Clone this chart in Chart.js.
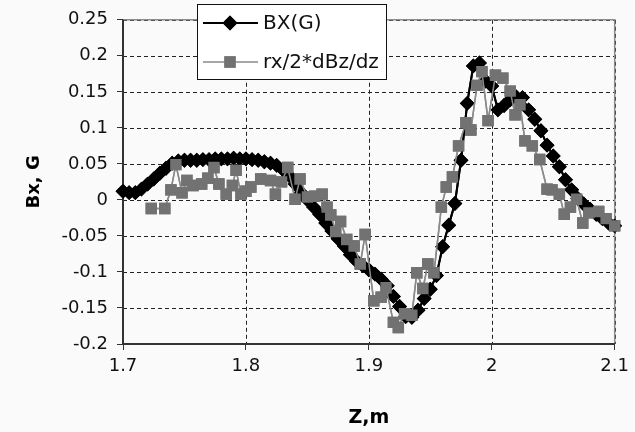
<!DOCTYPE html>
<html lang="en">
<head>
  <meta charset="UTF-8">
  <title>Bx vs Z</title>
  <script src="https://cdn.jsdelivr.net/npm/chart.js@4.4.0/dist/chart.umd.min.js"></script>
  <style>
    html, body { margin: 0; padding: 0; background: #fafafa; }
    #chart { display: block; }
  </style>
</head>
<body>
  <canvas id="chart" width="635" height="432"></canvas>

  <script type="text/javascript">
    // z positions (m) of the BX(G) points
    const bxZ = [
      1.700, 1.705, 1.710, 1.715, 1.720, 1.725, 1.730, 1.735, 1.740, 1.745,
      1.750, 1.755, 1.760, 1.765, 1.770, 1.775, 1.780, 1.785, 1.790, 1.795,
      1.800, 1.805, 1.810, 1.815, 1.820, 1.825, 1.830, 1.835, 1.840, 1.845,
      1.850, 1.855, 1.860, 1.865, 1.870, 1.875, 1.880, 1.885, 1.890, 1.895,
      1.900, 1.905, 1.910, 1.915, 1.920, 1.925, 1.930, 1.935, 1.940, 1.945,
      1.950, 1.955, 1.960, 1.965, 1.970, 1.975, 1.980, 1.985, 1.990, 1.995,
      2.000, 2.005, 2.010, 2.015, 2.020, 2.025, 2.030, 2.035, 2.040, 2.045,
      2.050, 2.055, 2.060, 2.065, 2.070, 2.075, 2.080, 2.085, 2.090, 2.095,
      2.100
    ];
    const bxValues = [
      0.012, 0.010, 0.010, 0.015, 0.022, 0.029, 0.037, 0.044, 0.051, 0.054,
      0.055, 0.055, 0.055, 0.056, 0.056, 0.057, 0.057, 0.057, 0.058, 0.057,
      0.057, 0.056, 0.055, 0.053, 0.051, 0.048, 0.042, 0.034, 0.022, 0.010,
      0.000, -0.010, -0.020, -0.032, -0.043, -0.054, -0.064, -0.076, -0.085, -0.091,
      -0.097, -0.103, -0.110, -0.119, -0.134, -0.148, -0.162, -0.163, -0.153, -0.137,
      -0.124, -0.105, -0.065, -0.035, -0.005, 0.055, 0.134, 0.186, 0.190, 0.165,
      0.158, 0.125, 0.131, 0.139, 0.143, 0.142, 0.125, 0.112, 0.096, 0.076,
      0.061, 0.046, 0.028, 0.014, 0.002, -0.006, -0.013, -0.020, -0.026, -0.032,
      -0.036
    ];

    // rx/2*dBz/dz points
    const gradZ = [
      1.723, 1.734, 1.739, 1.743, 1.748, 1.752, 1.757, 1.764, 1.769, 1.774,
      1.778, 1.784, 1.789, 1.792, 1.796, 1.800, 1.804, 1.812, 1.820, 1.824,
      1.829, 1.834, 1.840, 1.844, 1.850, 1.856, 1.862, 1.866, 1.869, 1.873,
      1.877, 1.882, 1.888, 1.893, 1.897, 1.904, 1.910, 1.914, 1.920, 1.924,
      1.929, 1.935, 1.939, 1.944, 1.948, 1.953, 1.959, 1.963, 1.968, 1.973,
      1.979, 1.983, 1.988, 1.992, 1.997, 2.003, 2.009, 2.015, 2.019, 2.023,
      2.027, 2.033, 2.039, 2.045, 2.049, 2.055, 2.059, 2.064, 2.069, 2.074,
      2.079, 2.087, 2.093, 2.100
    ];
    const gradValues = [
      -0.012, -0.012, 0.014, 0.049, 0.010, 0.027, 0.020, 0.022, 0.030, 0.045,
      0.022, 0.008, 0.020, 0.041, 0.008, 0.012, 0.018, 0.029, 0.027, 0.008,
      0.025, 0.045, 0.001, 0.029, 0.004, 0.005, 0.008, -0.010, -0.021, -0.044,
      -0.030, -0.055, -0.064, -0.089, -0.048, -0.140, -0.135, -0.122, -0.170, -0.177,
      -0.158, -0.160, -0.101, -0.123, -0.089, -0.101, -0.010, 0.018, 0.032, 0.075,
      0.107, 0.097, 0.159, 0.178, 0.110, 0.173, 0.169, 0.151, 0.118, 0.132,
      0.082, 0.075, 0.056, 0.015, 0.014, 0.008, -0.020, -0.010, 0.001, -0.032,
      -0.018, -0.016, -0.026, -0.036
    ];

    const seriesNames = ['BX(G)', 'rx/2*dBz/dz'];
    const xTicks = [1.7, 1.8, 1.9, 2.0, 2.1];
    const yTicks = [-0.2, -0.15, -0.1, -0.05, 0, 0.05, 0.1, 0.15, 0.2, 0.25];
    const yMin = -0.2, yMax = 0.25, yStep = 0.05;

    Chart.defaults.font.family = "'DejaVu Sans', sans-serif";
    Chart.defaults.color = '#111';

    // grid, frame, data again on top, then the boxed legend
    // (plot edges taken from the scales themselves)
    const overlay = {
      id: 'overlay',
      afterDraw(chart) {
        const ctx = chart.ctx;
        const sx = chart.scales.x, sy = chart.scales.y;
        const L = sx.getPixelForValue(xTicks[0]);
        const R = sx.getPixelForValue(xTicks[xTicks.length - 1]);
        const T = sy.getPixelForValue(yMax);
        const B = sy.getPixelForValue(yMin);

        ctx.save();
        ctx.strokeStyle = '#222';
        ctx.lineWidth = 1;
        ctx.setLineDash([4, 3]);
        yTicks.forEach((v) => {
          const py = Math.round(sy.getPixelForValue(v)) + 0.5;
          ctx.beginPath();
          ctx.moveTo(L, py);
          ctx.lineTo(R, py);
          ctx.stroke();
        });
        xTicks.forEach((v) => {
          const px = Math.round(sx.getPixelForValue(v)) + 0.5;
          ctx.beginPath();
          ctx.moveTo(px, T);
          ctx.lineTo(px, B);
          ctx.stroke();
        });
        ctx.setLineDash([]);
        ctx.strokeStyle = '#8c8c8c';
        ctx.lineWidth = 1.5;
        ctx.beginPath();
        ctx.moveTo(L, T);
        ctx.lineTo(R, T);
        ctx.lineTo(R, B);
        ctx.stroke();
        ctx.strokeStyle = '#333';
        ctx.lineWidth = 2;
        ctx.beginPath();
        ctx.moveTo(L, T);
        ctx.lineTo(L, B);
        ctx.lineTo(R, B);
        ctx.stroke();
        ctx.restore();

        // put the series back over the grid (black first, grey on top)
        const metas = chart.getSortedVisibleDatasetMetas();
        for (let i = metas.length - 1; i >= 0; i--) {
          ctx.save();
          metas[i].controller.draw();
          ctx.restore();
        }

        // legend box
        const left = 197, top = 4, width = 189, height = 75;
        ctx.save();
        ctx.fillStyle = '#ffffff';
        ctx.fillRect(left, top, width, height);
        ctx.strokeStyle = '#111';
        ctx.lineWidth = 1;
        ctx.strokeRect(left + 0.5, top + 0.5, width, height);
        const rows = [23, 62];
        chart.data.datasets.forEach((ds, i) => {
          const y = rows[i];
          ctx.strokeStyle = ds.borderColor;
          ctx.lineWidth = ds.borderWidth;
          ctx.beginPath();
          ctx.moveTo(203, y);
          ctx.lineTo(258, y);
          ctx.stroke();
          Chart.helpers.drawPoint(ctx, {
            pointStyle: ds.pointStyle,
            radius: ds.pointRadius,
            borderWidth: 1,
            rotation: 0
          }, 230, y);
          ctx.fillStyle = ds.pointBackgroundColor;
          ctx.strokeStyle = ds.pointBorderColor;
          ctx.fill();
          ctx.stroke();
          ctx.fillStyle = '#111';
          ctx.font = "20px 'DejaVu Sans'";
          ctx.textBaseline = 'middle';
          ctx.fillText(ds.label, 263, y + 1);
        });
        ctx.restore();
      }
    };

    const config = {
      type: 'scatter',
      data: {
        datasets: [{
          label: seriesNames[0],
          data: bxZ.map((z, i) => ({x: z, y: bxValues[i]})),
          showLine: true,
          borderColor: '#000',
          borderWidth: 2,
          pointStyle: 'rectRot',
          pointRadius: 6,
          pointBackgroundColor: '#000',
          pointBorderColor: '#000',
          order: 1,
          clip: false
        }, {
          label: seriesNames[1],
          data: gradZ.map((z, i) => ({x: z, y: gradValues[i]})),
          showLine: true,
          borderColor: '#8a8a8a',
          borderWidth: 1.5,
          pointStyle: 'rect',
          pointRadius: 7,
          pointBackgroundColor: '#727272',
          pointBorderColor: '#727272',
          order: 0,
          clip: false
        }]
      },
      options: {
        responsive: false,
        animation: false,
        devicePixelRatio: 1,
        layout: { padding: { top: 15, right: 15, left: 0, bottom: 0 } },
        plugins: {
          legend: { display: false },
          tooltip: { enabled: false }
        },
        scales: {
          x: {
            type: 'linear',
            min: xTicks[0],
            max: xTicks[xTicks.length - 1],
            afterBuildTicks: (s) => { s.ticks = xTicks.map(v => ({value: v})); },
            afterFit: (s) => { s.height = 88; },
            ticks: {
              padding: 6,
              font: { size: 18 },
              color: '#111',
              callback: (v) => String(Number(v.toFixed(1)))
            },
            grid: {
              drawOnChartArea: false,
              color: '#333',
              tickLength: 6,
              lineWidth: 1
            },
            border: { display: true, color: '#333', width: 2 },
            title: {
              display: true,
              text: 'Z,m',
              font: { size: 19, weight: 'bold' },
              color: '#000',
              padding: { top: 0, bottom: 3 }
            }
          },
          y: {
            min: yMin,
            max: yMax,
            afterFit: (s) => { s.width = 123; },
            ticks: {
              stepSize: yStep,
              padding: 9,
              font: { size: 18 },
              color: '#111',
              callback: (v) => String(Number(v.toFixed(2)))
            },
            grid: {
              drawOnChartArea: false,
              color: '#333',
              tickLength: 6,
              lineWidth: 1
            },
            border: { display: true, color: '#333', width: 2 },
            title: {
              display: true,
              text: 'Bx, G',
              font: { size: 18, weight: 'bold' },
              color: '#000',
              padding: { top: 24, bottom: 0 }
            }
          }
        }
      },
      plugins: [overlay]
    };

    new Chart(document.getElementById('chart'), config);
  </script>
</body>
</html>
